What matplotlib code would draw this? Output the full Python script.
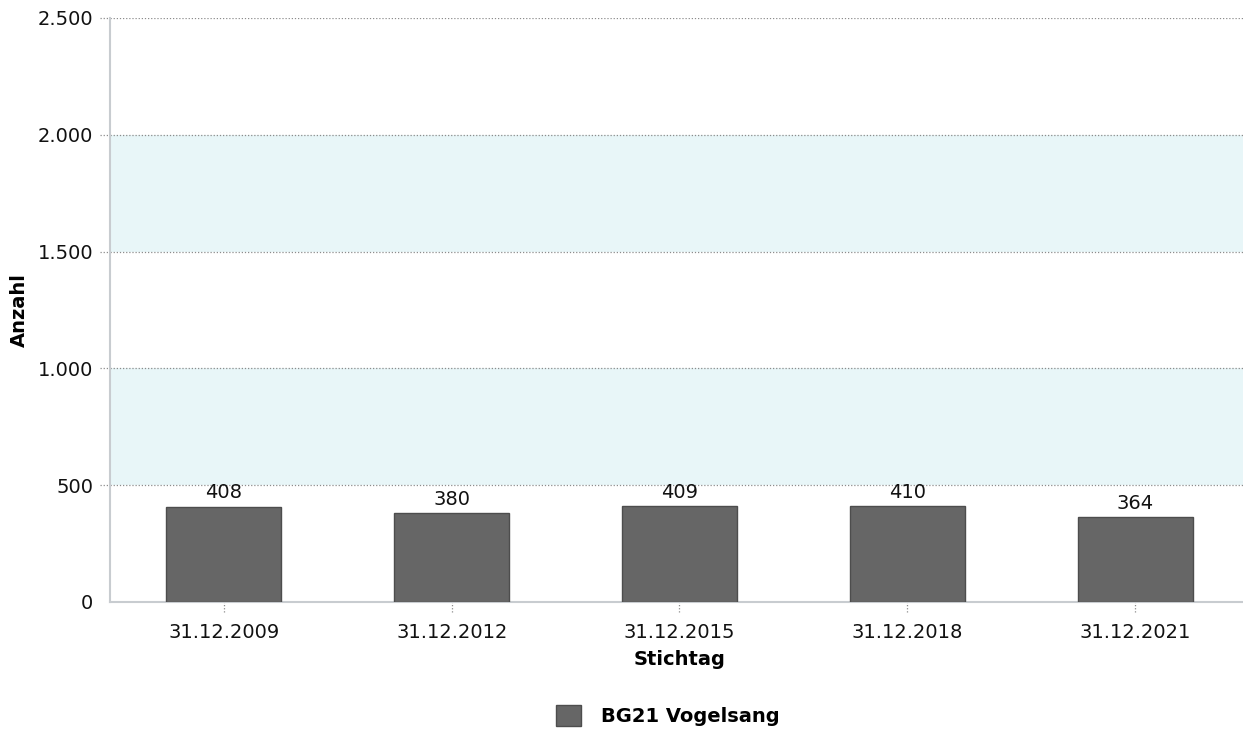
import matplotlib
matplotlib.use('Agg')

import matplotlib.pyplot as plt
import matplotlib.ticker as mticker
from matplotlib.patches import Patch

# data
dates = ['31.12.2009', '31.12.2012', '31.12.2015', '31.12.2018', '31.12.2021']
counts = [408, 380, 409, 410, 364]
series_name = 'BG21 Vogelsang'
y_ticks = [0, 500, 1000, 1500, 2000, 2500]
bands = [(500, 1000), (1500, 2000)]

plt.rcParams['font.family'] = 'DejaVu Sans'

fig = plt.figure(figsize=(12.43, 7.31), dpi=100)
ax = fig.add_axes([0.0885, 0.1765, 0.9163, 0.799])

# background bands
for lo, hi in bands:
    ax.axhspan(lo, hi, color='#e8f6f8', zorder=0, lw=0)

# grid
for t in y_ticks[1:]:
    ax.axhline(t, color='#8c8c8c', lw=0.9, ls=(0, (1, 1.5)), zorder=1)
for t in y_ticks[1:]:
    ax.plot([-0.009, 0], [t, t], transform=ax.get_yaxis_transform(),
            color='#8c8c8c', lw=0.9, ls=(0, (1, 1.5)), clip_on=False)

x = list(range(len(dates)))
bars = ax.bar(x, counts, width=0.505, color='#666666', edgecolor='#4d4d4d',
              linewidth=1, zorder=3)
for xi, v in zip(x, counts):
    ax.text(xi, v + 18, str(v), ha='center', va='bottom', fontsize=14,
            color='#111111', zorder=4)

ax.set_xlim(-0.5, len(dates) - 0.5)
ax.set_ylim(0, 2500)
ax.set_yticks(y_ticks)
ax.yaxis.set_major_formatter(mticker.FuncFormatter(
    lambda v, p: f'{int(v):,}'.replace(',', '.')))
ax.set_xticks(x)
ax.set_xticklabels(dates)

ax.tick_params(axis='y', length=0, pad=12, labelsize=14, labelcolor='#111111')
ax.tick_params(axis='x', length=0, pad=15, labelsize=14, labelcolor='#111111')
for xi in x:
    ax.plot([xi, xi], [-0.018, 0], transform=ax.get_xaxis_transform(),
            color='#8c8c8c', lw=0.9, ls=(0, (1, 1.5)), clip_on=False)

for s in ['top', 'right']:
    ax.spines[s].set_visible(False)
for s in ['left', 'bottom']:
    ax.spines[s].set_color('#c8ccd0')
    ax.spines[s].set_linewidth(1.5)

ax.set_xlabel('Stichtag', fontsize=14, fontweight='bold', labelpad=6)
ax.set_ylabel('Anzahl', fontsize=14, fontweight='bold')
ax.yaxis.set_label_coords(-0.071, 0.5)

leg = fig.legend(handles=[Patch(facecolor='#666666', edgecolor='#4d4d4d',
                                label=series_name)],
                 loc='center', bbox_to_anchor=(0.537, 0.021), frameon=False,
                 prop={'size': 14, 'weight': 'bold'}, handlelength=1.3,
                 handleheight=1.3, handletextpad=1.0)

fig.savefig('out.png', dpi=100)
